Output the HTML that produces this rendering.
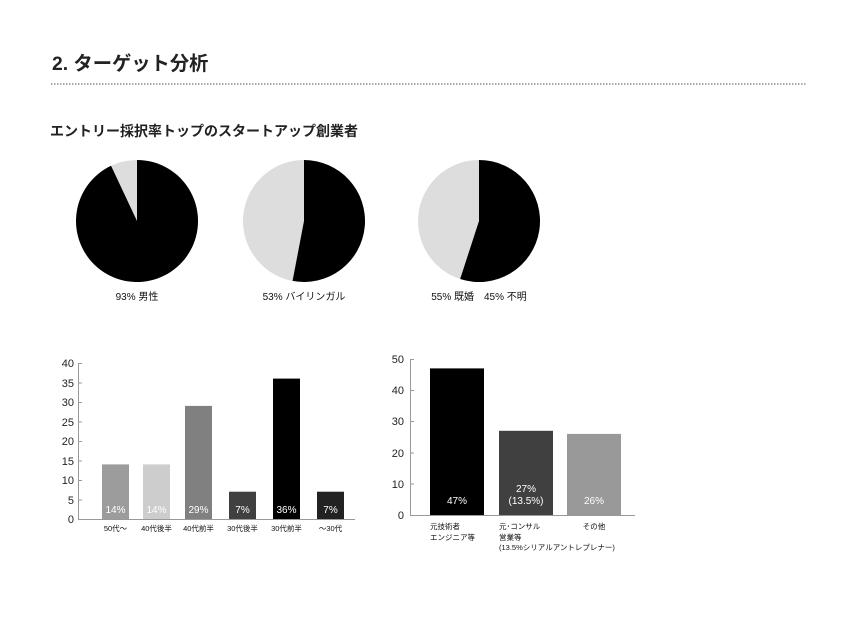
<!DOCTYPE html>
<html><head><meta charset="utf-8"><style>
body{margin:0;background:#fff;}
svg text{font-family:"Liberation Sans","Noto Sans CJK JP",sans-serif;}
</style></head><body>
<svg width="860" height="613" viewBox="0 0 860 613" xmlns="http://www.w3.org/2000/svg">
<rect width="860" height="613" fill="#fff"/>
<text x="52" y="70" font-size="19.3" font-weight="bold" fill="#222">2. ターゲット分析</text>
<line x1="51" y1="84" x2="806" y2="84" stroke="#555" stroke-width="1" stroke-dasharray="1.5,1.5"/>
<text x="50" y="136" font-size="14" font-weight="bold" fill="#222">エントリー採択率トップのスタートアップ創業者</text>

<!-- pies -->
<circle cx="137" cy="221" r="61" fill="#ddd"/>
<path d="M137,221 L137,160 A61,61 0 1 1 111.03,165.81 Z" fill="#000"/>
<circle cx="304" cy="221" r="61" fill="#ddd"/>
<path d="M304,221 L304,160 A61,61 0 1 1 292.57,280.92 Z" fill="#000"/>
<circle cx="479" cy="221" r="61" fill="#ddd"/>
<path d="M479,221 L479,160 A61,61 0 1 1 460.15,279.01 Z" fill="#000"/>
<text x="137" y="300" font-size="10" text-anchor="middle" fill="#111">93% 男性</text>
<text x="304" y="300" font-size="10" text-anchor="middle" fill="#111">53% バイリンガル</text>
<text x="479" y="300" font-size="10" text-anchor="middle" fill="#111">55% 既婚　45% 不明</text>

<!-- left bar chart -->
<g font-size="11" fill="#222" text-anchor="end">
<text x="74" y="523">0</text><text x="74" y="504">5</text><text x="74" y="484">10</text>
<text x="74" y="465">15</text><text x="74" y="445">20</text><text x="74" y="426">25</text>
<text x="74" y="406">30</text><text x="74" y="387">35</text><text x="74" y="367">40</text>
</g>
<line x1="78.5" y1="363" x2="78.5" y2="519" stroke="#999"/>
<line x1="78" y1="519.5" x2="355" y2="519.5" stroke="#999"/>
<g stroke="#999">
<line x1="78" y1="363.5" x2="82" y2="363.5"/><line x1="78" y1="383" x2="82" y2="383"/><line x1="78" y1="402.5" x2="82" y2="402.5"/><line x1="78" y1="422" x2="82" y2="422"/><line x1="78" y1="441.5" x2="82" y2="441.5"/><line x1="78" y1="461" x2="82" y2="461"/><line x1="78" y1="480.5" x2="82" y2="480.5"/><line x1="78" y1="500" x2="82" y2="500"/>
</g>
<rect x="102" y="464.4" width="27" height="54.6" fill="#9c9c9c"/>
<rect x="143" y="464.4" width="27" height="54.6" fill="#cdcdcd"/>
<rect x="185" y="405.9" width="27" height="113.1" fill="#808080"/>
<rect x="229" y="491.7" width="27" height="27.3" fill="#404040"/>
<rect x="273" y="378.6" width="27" height="140.4" fill="#000"/>
<rect x="317" y="491.7" width="27" height="27.3" fill="#222"/>
<g font-size="10" fill="#fff" text-anchor="middle">
<text x="115.5" y="513">14%</text><text x="156.5" y="513">14%</text><text x="198.5" y="513">29%</text>
<text x="242.5" y="513">7%</text><text x="286.5" y="513">36%</text><text x="330.5" y="513">7%</text>
</g>
<g font-size="7.5" fill="#111" text-anchor="middle">
<text x="115.5" y="531">50代～</text><text x="156.5" y="531">40代後半</text><text x="198.5" y="531">40代前半</text>
<text x="242.5" y="531">30代後半</text><text x="286.5" y="531">30代前半</text><text x="330.5" y="531">～30代</text>
</g>

<!-- right bar chart -->
<g font-size="11" fill="#222" text-anchor="end">
<text x="404" y="519">0</text><text x="404" y="488">10</text><text x="404" y="457">20</text>
<text x="404" y="425">30</text><text x="404" y="394">40</text><text x="404" y="363">50</text>
</g>
<line x1="410.5" y1="359" x2="410.5" y2="515" stroke="#999"/>
<line x1="410" y1="515.5" x2="635" y2="515.5" stroke="#999"/>
<g stroke="#999">
<line x1="410" y1="359.5" x2="414" y2="359.5"/><line x1="410" y1="390.5" x2="414" y2="390.5"/><line x1="410" y1="421.5" x2="414" y2="421.5"/><line x1="410" y1="453" x2="414" y2="453"/><line x1="410" y1="484" x2="414" y2="484"/>
</g>
<rect x="430" y="368.4" width="54" height="146.6" fill="#000"/>
<rect x="499" y="430.8" width="54" height="84.2" fill="#404040"/>
<rect x="567" y="433.9" width="54" height="81.1" fill="#999"/>
<g font-size="10" fill="#fff" text-anchor="middle">
<text x="457" y="504">47%</text>
<text x="526" y="492">27%</text><text x="526" y="504">(13.5%)</text>
<text x="594" y="504">26%</text>
</g>
<g font-size="7.5" fill="#111">
<text x="430" y="529">元技術者</text><text x="430" y="540">エンジニア等</text>
<text x="499" y="529">元･コンサル</text><text x="499" y="540">営業等</text><text x="499" y="550">(13.5%シリアルアントレプレナー)</text>
<text x="594" y="529" text-anchor="middle">その他</text>
</g>
</svg>
</body></html>
